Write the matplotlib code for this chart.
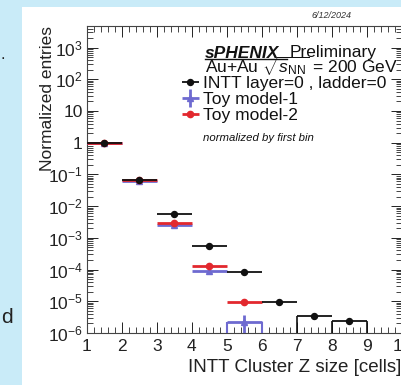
import matplotlib
matplotlib.use("Agg")
import matplotlib.pyplot as plt
from matplotlib.lines import Line2D
from matplotlib.patches import Rectangle
from matplotlib.ticker import FixedLocator, LogLocator, MultipleLocator, NullFormatter

plt.rcParams['font.family'] = ['Liberation Sans', 'DejaVu Sans']
plt.rcParams['mathtext.fontset'] = 'custom'
plt.rcParams['mathtext.rm'] = 'Liberation Sans'
plt.rcParams['mathtext.it'] = 'Liberation Sans:italic'
plt.rcParams['mathtext.bf'] = 'Liberation Sans:bold'

# bins: cluster Z size [cells], bin edges 1..10
bin_lo = [1, 2, 3, 4, 5, 6, 7, 8]
intt = [1.0, 0.069, 0.0056, 0.00057, 8.2e-5, 9.3e-6, 3.5e-6, 2.4e-6]
toy1 = [1.0, 0.062, 0.0026, 9.0e-5, 2.3e-6]
toy1_err = [0, 0, 0, 0, 1.3e-6]
toy2 = [1.0, 0.066, 0.00285, 1.29e-4, 9.3e-6]

y_ticks = [1e-6, 1e-5, 1e-4, 1e-3, 1e-2, 1e-1, 1, 10, 100, 1000]
y_ticklabels = ['$10^{-6}$', '$10^{-5}$', '$10^{-4}$', '$10^{-3}$', '$10^{-2}$',
                '$10^{-1}$', '1', '10', '$10^{2}$', '$10^{3}$']
x_ticks = [1, 2, 3, 4, 5, 6, 7, 8, 9, 10]

black = '#111111'
blue = '#6e6ad0'
red = '#e2282e'
ymin = 1e-6

fig = plt.figure(figsize=(4.01, 3.85), dpi=100, facecolor='#c9ebf8')
fig.patches.append(Rectangle((22 / 401, 0), 1, 1 - 7 / 385, transform=fig.transFigure,
                             facecolor='white', edgecolor='none', zorder=-10))

ax = fig.add_axes([86.7 / 401, 1 - 333 / 385, (402 - 86.7) / 401, (333 - 26) / 385])
ax.patch.set_alpha(0)
ax.set_yscale('log')
ax.set_xlim(1, 10)
ax.set_ylim(ymin, 4800)


def draw(vals, errs, color, marker, ms, lw, z):
    xs = [b + 0.5 for b in bin_lo[:len(vals)]]
    return ax.errorbar(xs, vals, xerr=0.5, yerr=errs, fmt=marker, color=color, ms=ms,
                       elinewidth=lw, capsize=0, zorder=z)


h1 = draw(toy1, toy1_err, blue, '^', 4.5, 2.0, 3)
h2 = draw(toy2, None, red, 'o', 4.5, 2.0, 4)
h0 = draw(intt, None, black, 'o', 4.3, 1.3, 5)

# histogram-style edges for the lowest bins
ax.vlines([bin_lo[6], bin_lo[7], bin_lo[7] + 1], ymin, [intt[6], intt[7], intt[7]],
          color=black, lw=1.2, zorder=5)
ax.vlines([bin_lo[4], bin_lo[4] + 1], ymin, [toy1[4], toy1[4]], color=blue, lw=1.5, zorder=3)

ax.yaxis.set_major_locator(FixedLocator(y_ticks))
ax.set_yticklabels(y_ticklabels)
ax.yaxis.set_minor_locator(LogLocator(base=10, subs=range(2, 10), numticks=20))
ax.yaxis.set_minor_formatter(NullFormatter())
ax.set_xticks(x_ticks)
ax.set_xticklabels([str(t) for t in x_ticks])
ax.xaxis.set_minor_locator(MultipleLocator(0.2))
ax.tick_params(which='both', direction='in', top=True, right=True, color='#444444', width=0.7)
ax.tick_params(which='major', length=8, labelsize=12.5, colors='#222222', pad=4)
ax.tick_params(which='minor', length=4)
ax.tick_params(axis='y', which='major', labelsize=12.5, pad=3)
for s in ax.spines.values():
    s.set_color('#444444')
    s.set_linewidth(0.8)

ax.set_xlabel('INTT Cluster Z size [cells]', fontsize=13.5, color='#222222')
ax.xaxis.set_label_coords((401 - 86.7) / (402 - 86.7), -0.085)
ax.xaxis.label.set_horizontalalignment('right')
ax.set_ylabel('Normalized entries', fontsize=12.5, color='#222222')
ax.yaxis.set_label_coords(-0.10, 1.0)
ax.yaxis.label.set_horizontalalignment('right')

fig.text(205 / 401, 1 - 57.5 / 385, 'sPHENIX', fontsize=12.5, fontweight='bold',
         style='italic', color='#111111')
fig.text(290 / 401, 1 - 57.5 / 385, 'Preliminary', fontsize=12.5, color='#111111')
fig.text(205 / 401, 1 - 73.5 / 385, r'Au+Au $\sqrt{s_{\rm NN}}$ = 200 GeV', fontsize=12.5,
         color='#111111')
fig.text(203 / 401, 1 - 141 / 385, 'normalized by first bin', fontsize=8.2,
         style='italic', color='#111111')
fig.text(312 / 401, 1 - 18.5 / 385, '6/12/2024', fontsize=6.5, style='italic', color='#333333')
fig.text(1 / 401, 1 - 323 / 385, 'd', fontsize=15, color='#222222')
fig.text(1 / 401, 1 - 59 / 385, '.', fontsize=12, color='#222222')

leg = ax.legend([h0, h1, h2], ['INTT layer=0 , ladder=0', 'Toy model-1', 'Toy model-2'],
                loc='upper left', bbox_to_anchor=(183 / 401, 1 - 76 / 385),
                bbox_transform=fig.transFigure, frameon=False, fontsize=12.5,
                handlelength=0.85, handletextpad=0.3, labelspacing=0.05, borderpad=0,
                borderaxespad=0)
for t in leg.get_texts():
    t.set_color('#111111')

fig.add_artist(Line2D([205 / 401, 287 / 401], [1 - 59 / 385] * 2,
                      transform=fig.transFigure, color='#111111', lw=1.0))

fig.savefig('out.png', dpi=100, facecolor=fig.get_facecolor())
